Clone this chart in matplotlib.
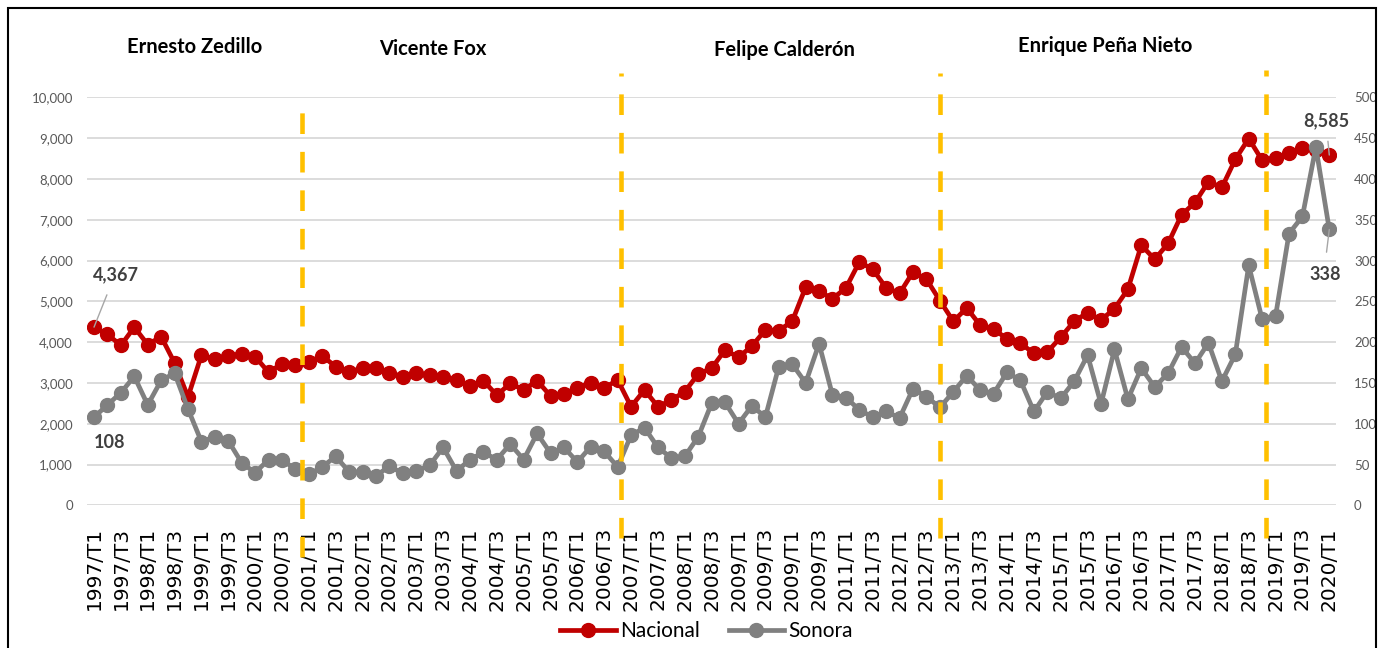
import matplotlib.pyplot as plt
from matplotlib.patches import Rectangle
from matplotlib.ticker import FuncFormatter

plt.rcParams['font.family'] = ['Lato', 'DejaVu Sans']

# trimestres 1997/T1 .. 2020/T1
nacional = [4367, 4190, 3920, 4365, 3940, 4134, 3490, 2655, 3680, 3578,
            3668, 3710, 3644, 3260, 3470, 3440, 3520, 3660, 3400, 3268,
            3366, 3366, 3252, 3154, 3235, 3186, 3137, 3072, 2925, 3056,
            2696, 2990, 2827, 3056, 2680, 2729, 2884, 3007, 2876, 3072,
            2418, 2827, 2418, 2582, 2786, 3219, 3360, 3807, 3627, 3905,
            4297, 4281, 4510, 5343, 5245, 5065, 5327, 5964, 5784, 5327,
            5196, 5719, 5540, 5016, 4510, 4837, 4412, 4330, 4069, 3971,
            3725, 3758, 4118, 4510, 4722, 4542, 4820, 5294, 6375, 6029,
            6422, 7120, 7422, 7930, 7790, 8480, 8990, 8456, 8520, 8627,
            8755, 8720, 8585]
sonora = [108, 123, 138, 158, 123, 153, 162, 118, 78, 84,
          79, 52, 40, 56, 56, 44, 38, 47, 60, 41,
          41, 36, 48, 39, 42, 49, 71, 42, 56, 65,
          56, 75, 56, 88, 64, 71, 53, 72, 66, 47,
          86, 95, 71, 58, 60, 84, 125, 126, 100, 122,
          108, 170, 173, 150, 198, 135, 132, 117, 108, 115,
          107, 143, 133, 120, 139, 159, 141, 137, 163, 153,
          115, 139, 131, 152, 184, 124, 191, 130, 168, 145,
          162, 194, 174, 199, 152, 185, 294, 228, 232, 333,
          354, 439, 338]
etiquetas = ['1997/T1', '1997/T3', '1998/T1', '1998/T3', '1999/T1', '1999/T3',
             '2000/T1', '2000/T3', '2001/T1', '2001/T3', '2002/T1', '2002/T3',
             '2003/T1', '2003/T3', '2004/T1', '2004/T3', '2005/T1', '2005/T3',
             '2006/T1', '2006/T3', '2007/T1', '2007/T3', '2008/T1', '2008/T3',
             '2009/T1', '2009/T3', '2009/T1', '2009/T3', '2011/T1', '2011/T3',
             '2012/T1', '2012/T3', '2013/T1', '2013/T3', '2014/T1', '2014/T3',
             '2015/T1', '2015/T3', '2016/T1', '2016/T3', '2017/T1', '2017/T3',
             '2018/T1', '2018/T3', '2019/T1', '2019/T3', '2020/T1']
presidentes = ['Ernesto Zedillo', 'Vicente Fox', 'Felipe Calderón', 'Enrique Peña Nieto']

W, H = 1384, 648
fig = plt.figure(figsize=(W / 100, H / 100), dpi=100)
ax = fig.add_axes([87.3 / W, 1 - 505.3 / H, (1336 - 87.3) / W, (505.3 - 97.3) / H])
ax2 = ax.twinx()

x = list(range(len(nacional)))
rojo, gris = '#C00000', '#808080'
ax.plot(x, nacional, color=rojo, lw=3.4, marker='o', ms=10, zorder=3, label='Nacional')
ax2.plot(x, sonora, color=gris, lw=3.4, marker='o', ms=10, zorder=3, label='Sonora')

ax.set_xlim(-0.5, len(nacional) - 0.5)
ax.set_ylim(0, 10000)
ax2.set_ylim(0, 500)
ax.set_yticks(range(0, 10001, 1000))
ax2.set_yticks(range(0, 501, 50))
ax.yaxis.set_major_formatter(FuncFormatter(lambda v, p: f'{int(v):,}'))
ax.yaxis.grid(True, color='#D9D9D9', lw=1.3)
ax.set_axisbelow(True)
for a in (ax, ax2):
    for s in a.spines.values():
        s.set_visible(False)
ax.tick_params(axis='y', length=0, labelsize=9.5, labelcolor='#595959', pad=10.4)
ax2.tick_params(axis='y', length=0, labelsize=9.5, labelcolor='#595959', pad=13)

ax.set_xticks(range(0, len(nacional), 2))
ax.set_xticklabels(etiquetas, rotation=90, fontsize=14.5, family='DejaVu Sans')
ax.tick_params(axis='x', length=0, pad=15.8)

# cambios de sexenio (lineas punteadas)
cambios = [15.5, 39.25, 63.0, 87.25]
tops = [492, 530, 530, 533]
bottoms = [-63, -40, -40, -40]
for c, t, b in zip(cambios, tops, bottoms):
    ax2.plot([c, c], [b, t], color='#FFC000', lw=3.3, dashes=(4.5, 3.9),
             clip_on=False, zorder=5)

# etiquetas de datos
txt = dict(fontsize=13, fontweight='bold', color='#404040', ha='center', va='center')
ax.annotate(f'{nacional[0]:,}', xy=(0, nacional[0]), xytext=(15.8, 37.4),
            textcoords='offset points', **txt,
            arrowprops=dict(arrowstyle='-', color='#A6A6A6', lw=1,
                            shrinkA=6.5, shrinkB=0, relpos=(0.4, 0)))
ax2.annotate(f'{sonora[0]:,}', xy=(0, sonora[0]), xytext=(11.5, -18),
             textcoords='offset points', **txt)
ax.annotate(f'{nacional[-1]:,}', xy=(x[-1], nacional[-1]), xytext=(-2.5, 25),
            textcoords='offset points', **txt, zorder=6,
            arrowprops=dict(arrowstyle='-', color='#A6A6A6', lw=1,
                            shrinkA=7, shrinkB=0, relpos=(0.52, 0)))
ax2.annotate(f'{sonora[-1]:,}', xy=(x[-1], sonora[-1]), xytext=(-3.2, -32.4),
             textcoords='offset points', **txt,
             arrowprops=dict(arrowstyle='-', color='#A6A6A6', lw=1,
                             shrinkA=8, shrinkB=0, relpos=(0.5, 1)))

# nombres de presidentes
pos_nombres = [(195, 47), (433, 49), (784, 50), (1105, 46)]
for nombre, (px, py) in zip(presidentes, pos_nombres):
    fig.text(px / W, 1 - py / H, nombre, fontsize=14.5, fontweight='bold',
             ha='center', va='center', color='black')

# leyenda
h1, l1 = ax.get_legend_handles_labels()
h2, l2 = ax2.get_legend_handles_labels()
fig.legend(h1 + h2, l1 + l2, loc='center', bbox_to_anchor=(706.5 / W, 1 - 631 / H),
           ncol=2, frameon=False, fontsize=15, handlelength=2.65,
           handletextpad=0.2, columnspacing=1.4)

fig.patches.append(Rectangle((8 / W, -0.1), (1376 - 8) / W, 0.1 + 1 - 8 / H,
                             transform=fig.transFigure, fill=False,
                             edgecolor='black', lw=1.5))

fig.savefig('out.png', dpi=100)
